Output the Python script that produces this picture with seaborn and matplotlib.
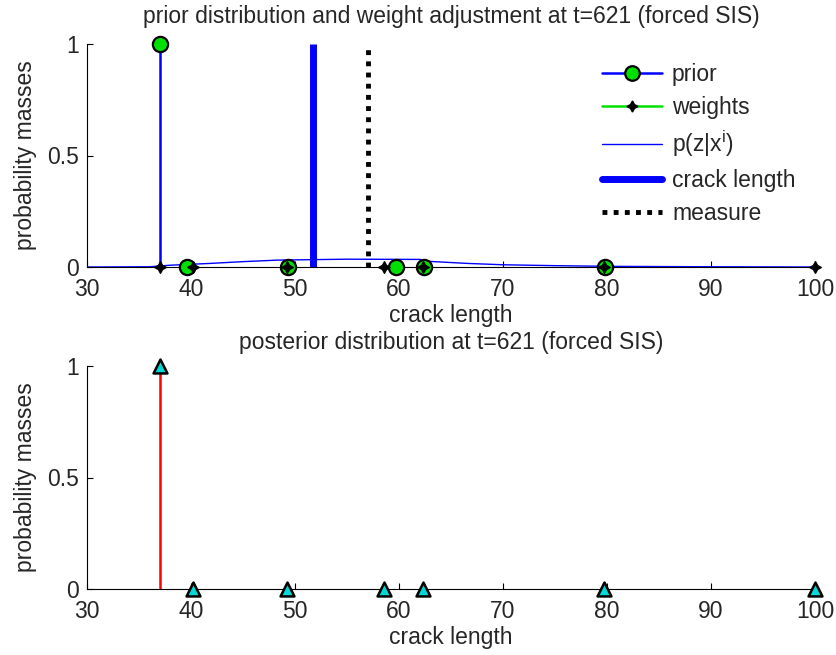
import numpy as np
import pandas as pd
import matplotlib
matplotlib.use("Agg")
import matplotlib.pyplot as plt
import seaborn as sns
from matplotlib.lines import Line2D
from matplotlib.legend_handler import HandlerLine2D

# ---- data ----
prior_x = [37.0, 39.6, 49.3, 59.7, 62.4, 79.8]
prior_y = [1.0, 0.0, 0.0, 0.0, 0.0, 0.0]

weights_x = [37.0, 40.2, 49.2, 58.6, 62.3, 79.7, 100.0]
weights_y = [0.0, 0.0, 0.0, 0.0, 0.0, 0.0, 0.0]

lik_x = [30, 36, 38, 41.8, 45, 48.4, 55, 62, 63, 66.6, 70, 75, 80, 90, 96, 100]
lik_y = [0.0, 0.001, 0.008, 0.016, 0.024, 0.031, 0.035, 0.034, 0.025, 0.016,
         0.010, 0.006, 0.003, 0.001, 0.0005, 0.0]

crack_length = 51.7
measure = 57.0

post_x = [37.0, 40.2, 49.2, 58.6, 62.3, 79.7, 100.0]
post_y = [1.0, 0.0, 0.0, 0.0, 0.0, 0.0, 0.0]

xticks = [30, 40, 50, 60, 70, 80, 90, 100]
yticks = [0, 0.5, 1]
yticklabels = ["0", "0.5", "1"]

title_top = "prior distribution and weight adjustment at t=621 (forced SIS)"
title_bot = "posterior distribution at t=621 (forced SIS)"

# ---- style ----
sns.set_style("white")
plt.rcParams["font.family"] = ["Liberation Sans", "DejaVu Sans"]
FS = 16.5
plt.rcParams["font.size"] = FS

fig = plt.figure(figsize=(8.36, 6.55), dpi=100)
ax1 = fig.add_axes([87 / 836, 1 - 267 / 655, 728 / 836, 223 / 655])
ax2 = fig.add_axes([87 / 836, 1 - 589 / 655, 728 / 836, 223 / 655])


def style_axes(ax, title, pad):
    ax.set_xlim(30, 100)
    ax.set_ylim(0, 1)
    ax.set_xticks(xticks)
    ax.set_xticklabels([str(t) for t in xticks], fontsize=FS)
    ax.set_yticks(yticks)
    ax.set_yticklabels(yticklabels, fontsize=FS)
    ax.tick_params(direction="in", length=4, width=0.8, color="black",
                   left=True, bottom=True, top=False, right=False)
    ax.tick_params(axis="x", pad=8)
    ax.tick_params(axis="y", pad=6)
    for s in ["top", "right"]:
        ax.spines[s].set_visible(False)
    for s in ["left", "bottom"]:
        ax.spines[s].set_color("black")
        ax.spines[s].set_linewidth(0.8)
    ax.set_xlabel("crack length", fontsize=FS, labelpad=2)
    ax.set_ylabel("probability masses", fontsize=FS, labelpad=7)
    ax.set_title(title, fontsize=FS, pad=pad)


# ---- top panel ----
lik_df = pd.DataFrame({"x": lik_x, "y": lik_y})
sns.lineplot(data=lik_df, x="x", y="y", ax=ax1, color="blue", linewidth=1.0,
             zorder=3, legend=False)

ax1.vlines(prior_x, 0, prior_y, colors="blue", linewidth=1.8, zorder=4)
ax1.vlines(weights_x, 0, weights_y, colors="#00e000", linewidth=1.8, zorder=4)
ax1.plot([crack_length, crack_length], [0, 1], color="blue", linewidth=5,
         solid_capstyle="butt", zorder=5)
ax1.plot([measure, measure], [0, 1], color="black", linewidth=3.5,
         linestyle=(0, (1, 1.3)), dash_capstyle="butt", zorder=5)

prior_df = pd.DataFrame({"x": prior_x, "y": prior_y})
weights_df = pd.DataFrame({"x": weights_x, "y": weights_y})
sns.scatterplot(data=prior_df, x="x", y="y", ax=ax1, marker="o", s=120,
                color="#00e000", edgecolor="black", linewidth=1.6,
                zorder=6, clip_on=False, legend=False)
sns.scatterplot(data=weights_df, x="x", y="y", ax=ax1, marker=(4, 1, 0), s=70,
                color="black", edgecolor="black", linewidth=1.0,
                zorder=7, clip_on=False, legend=False)

style_axes(ax1, title_top, pad=15)


class EndMarkerHandler(HandlerLine2D):
    def get_xdata(self, legend, xdescent, ydescent, width, height, fontsize):
        xdata = np.array([-xdescent, -xdescent + width])
        xmark = np.array([-xdescent + width])
        return xdata, xmark


h_prior = Line2D([], [], color="blue", linewidth=1.8, marker="o",
                 markersize=10.5, markerfacecolor="#00e000",
                 markeredgecolor="black", markeredgewidth=1.6)
h_weights = Line2D([], [], color="#00e000", linewidth=1.8, marker=(4, 1, 0),
                   markersize=8, markerfacecolor="black",
                   markeredgecolor="black")
h_lik = Line2D([], [], color="blue", linewidth=1.0)
h_crack = Line2D([], [], color="blue", linewidth=5)
h_meas = Line2D([], [], color="black", linewidth=3.5,
                linestyle=(0, (1, 1.3)), dash_capstyle="butt")

leg = ax1.legend([h_prior, h_weights, h_lik, h_crack, h_meas],
                 ["prior", "weights", r"p(z|x$^{\mathregular{i}}$)",
                  "crack length", "measure"],
                 loc="upper right", bbox_to_anchor=(1.0, 1.0),
                 bbox_transform=ax1.transAxes, frameon=False,
                 fontsize=FS, handlelength=2.6, handletextpad=0.45,
                 labelspacing=0.42, borderaxespad=0.45,
                 handler_map={h_prior: EndMarkerHandler(numpoints=1),
                              h_weights: EndMarkerHandler(numpoints=1)})

# ---- bottom panel ----
ax2.vlines(post_x, 0, post_y, colors="red", linewidth=1.8, zorder=4)
post_df = pd.DataFrame({"x": post_x, "y": post_y})
sns.scatterplot(data=post_df, x="x", y="y", ax=ax2, marker="^", s=100,
                color="#00d8d8", edgecolor="black", linewidth=1.8,
                zorder=6, clip_on=False, legend=False)

style_axes(ax2, title_bot, pad=12)

fig.savefig("out.png", dpi=100)
